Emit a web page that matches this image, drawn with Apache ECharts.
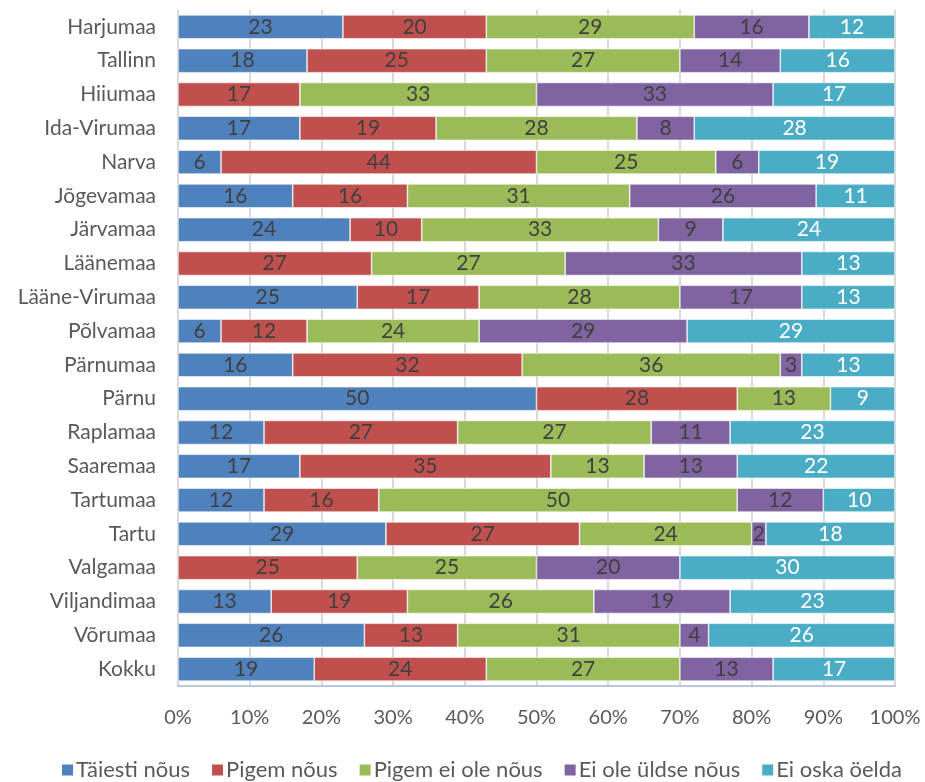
<!DOCTYPE html>
<html>
<head>
<meta charset="utf-8">
<script src="https://cdn.jsdelivr.net/npm/echarts@6/dist/echarts.min.js"></script>
<style>
  html, body { margin: 0; padding: 0; background: #fff; }
  #chart { width: 925px; height: 782px; }
</style>
</head>
<body>
<div id="chart"></div>
<script>
// Regions, top to bottom
const regions = ['Harjumaa', 'Tallinn', 'Hiiumaa', 'Ida-Virumaa', 'Narva', 'Jõgevamaa', 'Järvamaa',
  'Läänemaa', 'Lääne-Virumaa', 'Põlvamaa', 'Pärnumaa', 'Pärnu', 'Raplamaa', 'Saaremaa',
  'Tartumaa', 'Tartu', 'Valgamaa', 'Viljandimaa', 'Võrumaa', 'Kokku'];

// Answer shares (%) per region
const taiestiNous      = [23, 18, 0, 17, 6, 16, 24, 0, 25, 6, 16, 50, 12, 17, 12, 29, 0, 13, 26, 19];
const pigemNous        = [20, 25, 17, 19, 44, 16, 10, 27, 17, 12, 32, 28, 27, 35, 16, 27, 25, 19, 13, 24];
const pigemEiOleNous   = [29, 27, 33, 28, 25, 31, 33, 27, 28, 24, 36, 13, 27, 13, 50, 24, 25, 26, 31, 27];
const eiOleUldseNous   = [16, 14, 33, 8, 6, 26, 9, 33, 17, 29, 3, 0, 11, 13, 12, 2, 20, 19, 4, 13];
const eiOskaOelda      = [12, 16, 17, 28, 19, 11, 24, 13, 13, 29, 13, 9, 23, 22, 10, 18, 30, 23, 26, 17];

const seriesNames = ['Täiesti nõus', 'Pigem nõus', 'Pigem ei ole nõus', 'Ei ole üldse nõus', 'Ei oska öelda'];
const seriesData = [taiestiNous, pigemNous, pigemEiOleNous, eiOleUldseNous, eiOskaOelda];
const colors = ['#4f81bd', '#c0504d', '#9bbb59', '#8064a2', '#4bacc6'];
const labelColors = ['#404040', '#404040', '#404040', '#404040', '#ffffff'];

const FONT = 'Lato';
const FS = 21;

const chart = echarts.init(document.getElementById('chart'), null, { renderer: 'canvas' });

chart.setOption({
  animation: false,
  textStyle: { fontFamily: FONT },
  grid: { left: 178, right: 30, top: 10, bottom: 96, containLabel: false },
  legend: {
    top: 754,
    left: 55,
    itemWidth: 13,
    itemHeight: 13,
    itemGap: 20,
    icon: 'rect',
    textStyle: { fontFamily: FONT, fontSize: 22, color: '#595959', padding: [0, 0, 0, -3] },
    data: seriesNames
  },
  xAxis: {
    type: 'value',
    min: 0,
    max: 100,
    interval: 10,
    axisLabel: { formatter: '{value}%', fontSize: FS - 1, color: '#595959', margin: 22, fontFamily: FONT },
    splitLine: { show: true, lineStyle: { color: '#d9d9d9', width: 2 } },
    axisLine: { show: true, lineStyle: { color: '#b9c8dc', width: 2 } },
    axisTick: { show: false }
  },
  yAxis: {
    type: 'category',
    inverse: true,
    data: regions,
    axisLabel: { fontSize: FS, color: '#595959', margin: 22, fontFamily: FONT },
    axisLine: { show: true, lineStyle: { color: '#d9d9d9', width: 2 } },
    axisTick: { show: false }
  },
  series: seriesNames.map((name, i) => ({
    name: name,
    type: 'bar',
    stack: 'total',
    barWidth: 24,
    data: seriesData[i].map(v => (v === 0 ? null : v)),
    itemStyle: { color: colors[i], borderColor: '#ffffff', borderWidth: 0.6 },
    label: {
      show: true,
      position: 'inside',
      color: labelColors[i],
      fontSize: FS,
      fontFamily: FONT
    }
  }))
});
</script>
</body>
</html>
